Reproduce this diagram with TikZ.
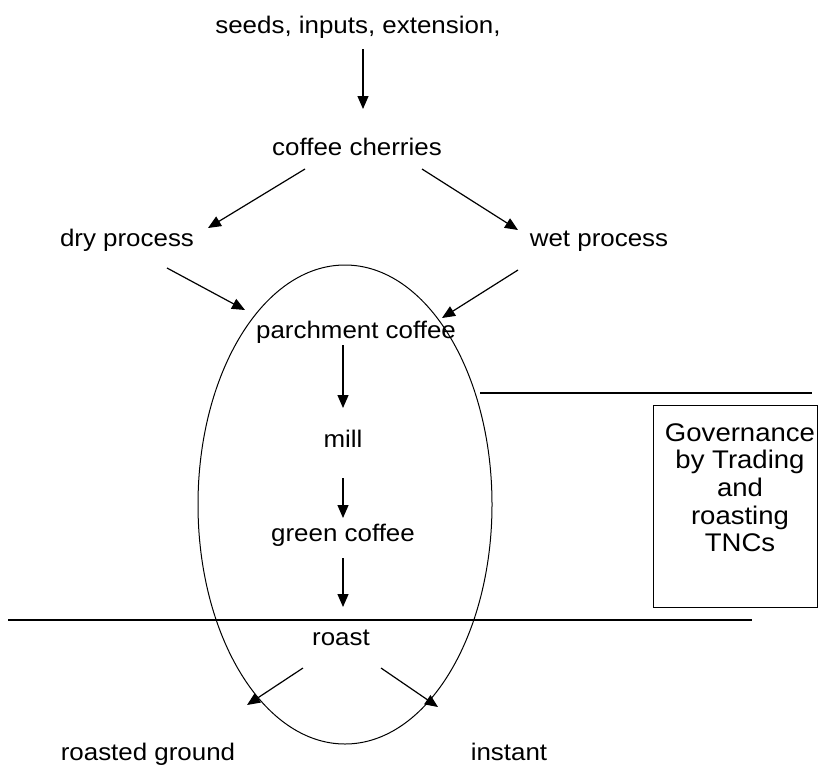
\documentclass[tikz,border=0pt]{standalone}
\usepackage{fontspec}
\setmainfont[FakeStretch=1.08]{Liberation Sans}
\usetikzlibrary{arrows.meta}
\begin{document}
\begin{tikzpicture}[x=1pt,y=-1pt,
  txt/.style={font=\fontsize{24}{27.7}\selectfont, anchor=base, inner sep=0pt},
  flow/.style={-{Triangle[length=13pt,width=11pt]}, line width=1.2pt},
  rule/.style={line width=1.1pt},
  frame/.style={draw, line width=1pt, inner sep=0pt}]
\useasboundingbox (0,0) rectangle (821,771);

% stage labels
\node[txt] (seeds)   at (358,33)  {seeds, inputs, extension,};
\node[txt] (cherry)  at (357,155) {coffee cherries};
\node[txt] (dry)     at (127,246) {dry process};
\node[txt] (wet)     at (599,246) {wet process};
\node[txt] (parch)   at (356,338) {parchment coffee};
\node[txt] (mill)    at (343,447) {mill};
\node[txt] (green)   at (343,541) {green coffee};
\node[txt] (roast)   at (341,645) {roast};
\node[txt] (ground)  at (148,760) {roasted ground};
\node[txt] (instant) at (509,760) {instant};

% governance box
\node[frame, minimum width=164pt, minimum height=202pt] (gov) at (735,506) {};
\node[txt, font=\fontsize{25.5}{27.7}\selectfont, align=center, anchor=north]
  (govtext) at (740,423)
  {Governance\\by Trading\\and\\roasting\\TNCs};

% chain boundary
\draw[line width=1pt] (345,504.5) ellipse [x radius=147, y radius=239.5];

% arrow end points
\coordinate (s0) at (363,49);  \coordinate (e0) at (363,109);
\coordinate (s1) at (305,169); \coordinate (e1) at (208,228);
\coordinate (s2) at (422,169); \coordinate (e2) at (518,230);
\coordinate (s3) at (167,268); \coordinate (e3) at (245,310);
\coordinate (s4) at (518,270); \coordinate (e4) at (442,318);
\coordinate (s5) at (343,345); \coordinate (e5) at (343,408);
\coordinate (s6) at (343,478); \coordinate (e6) at (343,518);
\coordinate (s7) at (343,558); \coordinate (e7) at (343,607);
\coordinate (s8) at (303,668); \coordinate (e8) at (247,705);
\coordinate (s9) at (381,668); \coordinate (e9) at (438,707);

\foreach \i in {0,...,9} \draw[flow] (s\i) -- (e\i);

% horizontal rules
\coordinate (ra) at (480,393); \coordinate (rb) at (812,393);
\coordinate (rc) at (8,620);   \coordinate (rd) at (752,620);
\draw[rule] (ra) -- (rb);
\draw[rule] (rc) -- (rd);
\end{tikzpicture}
\end{document}
